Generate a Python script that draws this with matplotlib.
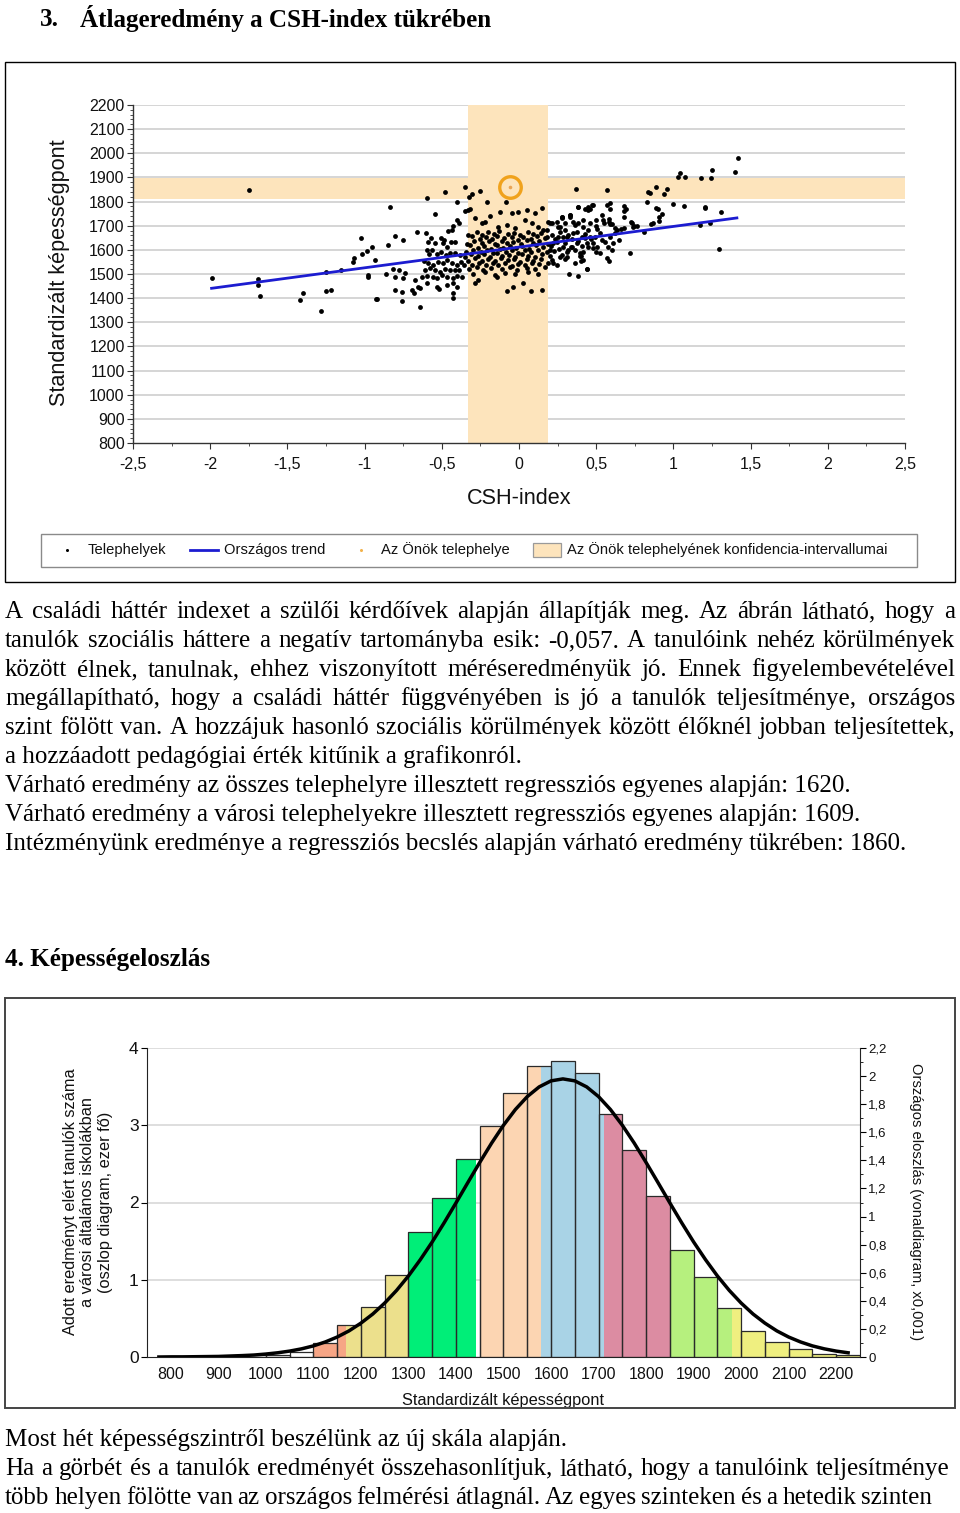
import matplotlib
matplotlib.use('Agg')
import matplotlib.pyplot as plt
from matplotlib.patches import Rectangle
from matplotlib.lines import Line2D
from matplotlib.ticker import MultipleLocator
from matplotlib.transforms import Bbox, TransformedBbox

# ---------------- data: chart 1 (CSH index scatter) ----------------
site_csh = [
    # left tail
    -1.99, -1.75, -1.69, -1.69, -1.68, -1.42, -1.40, -1.28, -1.25, -1.25, -1.22, -1.15,
    # -1.07 .. -0.32
    -1.066, -1.073, -1.023, -0.982, -0.952, -1.015, -0.933, -0.976, -0.976, -0.926,
    -0.918, -0.864, -0.846, -0.835, -0.818, -0.803, -0.803, -0.803, -0.775, -0.760,
    -0.760, -0.753, -0.749, -0.738, -0.695, -0.680, -0.674, -0.663, -0.652, -0.641,
    -0.641, -0.630, -0.615, -0.609, -0.602, -0.598, -0.598, -0.594, -0.594, -0.587,
    -0.587, -0.583, -0.576, -0.570, -0.566, -0.559, -0.555, -0.544, -0.544, -0.544,
    -0.533, -0.533, -0.529, -0.522, -0.516, -0.512, -0.507, -0.505, -0.501, -0.494,
    -0.490, -0.486, -0.481, -0.479, -0.475, -0.468, -0.468, -0.468, -0.464, -0.460,
    -0.447, -0.447, -0.440, -0.436, -0.436, -0.430, -0.430, -0.430, -0.425, -0.425,
    -0.415, -0.415, -0.412, -0.404, -0.404, -0.404, -0.402, -0.399, -0.391, -0.386,
    -0.382, -0.378, -0.371, -0.356, -0.352, -0.350, -0.320, -0.350,
    # outliers around the centre
    -0.302, -0.253, -0.324, -0.209, -0.086, 0.369, -0.080, -0.037, 0.078, 0.151,
    0.028, -0.263, -0.285, -0.145, 0.324, 0.380, 0.438,
    # upper sparse part of the core
    -0.188, -0.123, -0.047, -0.004, 0.050, 0.104, 0.147, 0.039, 0.082, -0.242,
    -0.220, -0.285, -0.328, 0.201, 0.276, 0.330, 0.384, 0.449, 0.481, -0.134,
    -0.080, -0.026, 0.125, 0.179, 0.255, 0.298, 0.363, 0.417, 0.460,
    # dense core
    -0.332, -0.274, -0.237, -0.199, -0.160, -0.127, -0.069, -0.030, 0.006, 0.060, 0.093, 0.142, 0.216, 0.266, 0.320, 0.373, 0.427,
    -0.307, -0.253, -0.216, -0.177, -0.140, -0.095, -0.047, -0.009, 0.028, 0.078, 0.114, 0.168, 0.233, 0.287, 0.345, 0.406, 0.466,
    -0.339, -0.289, -0.242, -0.194, -0.155, -0.112, -0.080, -0.037, 0.013, 0.050, 0.093, 0.130, 0.190, 0.244, 0.298, 0.384, 0.438,
    -0.317, -0.263, -0.225, -0.181, -0.145, -0.101, -0.058, -0.022, 0.022, 0.065, 0.108, 0.158, 0.207, 0.259, 0.337, 0.410, 0.481,
    -0.343, -0.296, -0.246, -0.209, -0.166, -0.123, -0.086, -0.043, -0.004, 0.039, 0.078, 0.125, 0.179, 0.229, 0.309, 0.363,
    -0.311, -0.268, -0.225, -0.188, -0.145, -0.108, -0.065, -0.026, 0.017, 0.060, 0.104, 0.151, 0.201, 0.276, 0.395,
    -0.332, -0.285, -0.237, -0.199, -0.155, -0.117, -0.073, -0.030, 0.006, 0.050, 0.093, 0.142, 0.212, 0.298,
    -0.307, -0.259, -0.216, -0.166, -0.134, -0.091, -0.047, -0.004, 0.039, 0.082, 0.130, 0.190, 0.244,
    -0.324, -0.274, -0.231, -0.181, -0.112, -0.058, -0.015, 0.050, 0.104, 0.168,
    -0.296, -0.220, -0.155, -0.091, -0.026, 0.060, 0.125,
    # 0.15 .. 0.65
    0.212, 0.244, 0.266, 0.298, 0.330, 0.352, 0.384, 0.417, 0.449, 0.460,
    0.492, 0.525, 0.535, 0.557, 0.589, 0.622, 0.255, 0.222, 0.287, 0.320,
    0.341, 0.373, 0.395, 0.417, 0.449, 0.481, 0.266, 0.222, 0.309, 0.363,
    0.417, 0.503, 0.525, 0.579, 0.611, 0.201, 0.179, 0.158, 0.190, 0.276,
    0.309, 0.352, 0.427,
    # right part
    1.416, 1.401, 1.250, 1.245, 1.179, 1.045, 1.028, 1.077, 0.885, 0.837,
    0.847, 0.941, 0.959, 0.568, 0.829, 0.999, 1.071, 1.205, 1.207, 1.310,
    0.889, 0.900, 0.924, 0.907, 0.905, 0.857, 0.870, 0.810, 0.747, 0.766,
    0.734, 1.174, 1.237, 1.297, 0.717, 0.680, 0.691, 0.680, 0.682, 0.587,
    0.570, 0.589, 0.473, 0.462, 0.445, 0.429, 0.380, 0.328, 0.280, 0.440,
    0.568, 0.583, 0.604, 0.499, 0.403, 0.403, 0.650, 0.581, 0.581, 0.589,
    0.604, 0.620, 0.633, 0.659, 0.678, 0.499, 0.499, 0.507, 0.536, 0.542,
    0.553, 0.740, 0.727,
]
site_score = [
    1485, 1848, 1478, 1454, 1409, 1391, 1420, 1348, 1508, 1428, 1432, 1517,
    1565, 1551, 1648, 1597, 1610, 1583, 1558, 1486, 1496, 1395,
    1395, 1500, 1620, 1776, 1519, 1489, 1657, 1434, 1517, 1388,
    1427, 1482, 1641, 1503, 1434, 1420, 1475, 1674, 1447, 1441,
    1365, 1489, 1555, 1517, 1670, 1815, 1599, 1492, 1464, 1544,
    1634, 1583, 1523, 1648, 1599, 1486, 1537, 1517, 1630, 1750,
    1583, 1447, 1482, 1551, 1436, 1510, 1648, 1592, 1496, 1627,
    1544, 1641, 1840, 1519, 1579, 1489, 1454, 1610, 1558, 1677,
    1517, 1586, 1633, 1544, 1682, 1482, 1423, 1399, 1464, 1699,
    1517, 1634, 1586, 1537, 1445, 1724, 1797, 1492, 1710, 1517,
    1579, 1551, 1486, 1537, 1859, 1572, 1768, 1762,
    1831, 1845, 1820, 1800, 1800, 1851, 1431, 1447, 1430, 1434,
    1464, 1475, 1464, 1486, 1500, 1492, 1519,
    1740, 1758, 1751, 1758, 1765, 1751, 1772, 1724, 1710, 1710,
    1717, 1731, 1765, 1710, 1737, 1744, 1779, 1765, 1786, 1696,
    1703, 1689, 1696, 1682, 1696, 1710, 1703, 1724, 1710,
    1663, 1673, 1660, 1675, 1667, 1677, 1664, 1671, 1662, 1674, 1666, 1670, 1660, 1673, 1663, 1675, 1667,
    1656, 1644, 1653, 1645, 1657, 1648, 1655, 1642, 1652, 1646, 1656, 1649, 1644, 1655, 1646, 1653, 1645,
    1626, 1637, 1627, 1635, 1624, 1638, 1628, 1634, 1623, 1639, 1630, 1635, 1626, 1632, 1627, 1637, 1628,
    1619, 1608, 1616, 1605, 1620, 1609, 1617, 1606, 1615, 1604, 1619, 1610, 1616, 1605, 1612, 1617, 1608,
    1590, 1601, 1591, 1599, 1588, 1602, 1592, 1598, 1587, 1599, 1591, 1601, 1590, 1597, 1592, 1599,
    1583, 1573, 1581, 1570, 1586, 1575, 1580, 1569, 1584, 1576, 1572, 1581, 1573, 1579, 1575,
    1554, 1565, 1555, 1563, 1552, 1566, 1557, 1562, 1551, 1561, 1555, 1563, 1558, 1561,
    1537, 1546, 1536, 1544, 1539, 1547, 1535, 1543, 1537, 1546, 1540, 1544, 1536,
    1519, 1528, 1518, 1526, 1521, 1529, 1518, 1525, 1522, 1528,
    1500, 1507, 1497, 1506, 1501, 1508, 1499,
    1710, 1717, 1696, 1682, 1737, 1717, 1710, 1696, 1682, 1654,
    1654, 1668, 1641, 1634, 1654, 1668, 1654, 1627, 1613, 1599,
    1613, 1627, 1585, 1592, 1613, 1627, 1572, 1544, 1572, 1544,
    1558, 1613, 1585, 1613, 1627, 1599, 1654, 1682, 1717, 1730,
    1654, 1668, 1648,
    1982, 1924, 1931, 1898, 1898, 1920, 1903, 1901, 1859, 1838,
    1836, 1830, 1851, 1849, 1797, 1791, 1780, 1779, 1773, 1757,
    1772, 1768, 1749, 1735, 1721, 1706, 1710, 1673, 1698, 1698,
    1713, 1702, 1710, 1602, 1588, 1782, 1770, 1760, 1736, 1793,
    1785, 1769, 1786, 1768, 1776, 1770, 1779, 1744, 1735, 1521,
    1565, 1555, 1598, 1590, 1554, 1575, 1641, 1729, 1717, 1706,
    1707, 1691, 1682, 1685, 1689, 1724, 1699, 1685, 1744, 1724,
    1713, 1693, 1717,
]
trend_csh = [-2.0, 1.42]
trend_score = [1440, 1733]
own_csh, own_score = -0.057, 1860
ci_csh = [-0.33, 0.19]
ci_score = [1811, 1898]
score_ticks = [800, 900, 1000, 1100, 1200, 1300, 1400, 1500, 1600, 1700, 1800, 1900, 2000, 2100, 2200]
csh_ticks = [-2.5, -2, -1.5, -1, -0.5, 0, 0.5, 1, 1.5, 2, 2.5]
csh_labels = ['-2,5', '-2', '-1,5', '-1', '-0,5', '0', '0,5', '1', '1,5', '2', '2,5']
legend_labels = ['Telephelyek', 'Országos trend', 'Az Önök telephelye',
                 'Az Önök telephelyének konfidencia-intervallumai']

# ---------------- data: chart 2 (ability distribution) ----------------
bin_left = [800, 850, 900, 950, 1000, 1050, 1100, 1150, 1200, 1250,
            1300, 1350, 1400, 1450, 1500, 1550, 1600, 1650, 1700, 1750,
            1800, 1850, 1900, 1950, 2000, 2050, 2100, 2150, 2200]
students_thousand = [0.01, 0.01, 0.01, 0.02, 0.03, 0.06, 0.18, 0.42, 0.65, 1.06,
                     1.62, 2.06, 2.56, 2.99, 3.42, 3.77, 3.83, 3.68, 3.14, 2.68,
                     2.08, 1.38, 1.03, 0.63, 0.34, 0.19, 0.11, 0.04, 0.03]
BIN_W = 50
level_lo = [1100, 1168, 1300, 1450, 1578, 1712, 1850, 1981]
level_hi = [1168, 1300, 1442, 1578, 1712, 1850, 1981, 2250]
level_colors = ['#F6A585', '#ECE08C', '#00EE78', '#FCD5B2', '#A9D3E6', '#DC8CA2', '#B6F07E', '#EFEF80']
curve_score = [775, 800, 825, 850, 875, 900, 925, 950, 975, 1000, 1025, 1050, 1075, 1100,
               1125, 1150, 1175, 1200, 1225, 1250, 1275, 1300, 1325, 1350, 1375, 1400,
               1425, 1450, 1475, 1500, 1525, 1550, 1575, 1600, 1625, 1650, 1675, 1700,
               1725, 1750, 1775, 1800, 1825, 1850, 1875, 1900, 1925, 1950, 1975, 2000,
               2025, 2050, 2075, 2100, 2125, 2150, 2175, 2200, 2225]
curve_density = [0.000, 0.001, 0.001, 0.002, 0.003, 0.004, 0.007, 0.010, 0.014, 0.021,
                 0.030, 0.042, 0.058, 0.079, 0.107, 0.142, 0.186, 0.241, 0.306, 0.384,
                 0.474, 0.577, 0.693, 0.819, 0.955, 1.097, 1.242, 1.385, 1.523, 1.650,
                 1.762, 1.854, 1.923, 1.966, 1.980, 1.966, 1.923, 1.854, 1.762, 1.650,
                 1.523, 1.385, 1.242, 1.097, 0.955, 0.819, 0.693, 0.577, 0.474, 0.384,
                 0.306, 0.241, 0.186, 0.142, 0.107, 0.079, 0.058, 0.042, 0.030]
dist_ticks = [800, 900, 1000, 1100, 1200, 1300, 1400, 1500, 1600, 1700, 1800, 1900, 2000, 2100, 2200]
left_ticks = [0, 1, 2, 3, 4]
right_ticks = [0, 0.2, 0.4, 0.6, 0.8, 1.0, 1.2, 1.4, 1.6, 1.8, 2.0, 2.2]
right_labels = ['0', '0,2', '0,4', '0,6', '0,8', '1', '1,2', '1,4', '1,6', '1,8', '2', '2,2']

# ---------------- page text ----------------
heading3_num = '3.'
heading3 = 'Átlageredmény a CSH-index tükrében'
para1 = [
    ('A családi háttér indexet a szülői kérdőívek alapján állapítják meg. Az ábrán látható, hogy a', True),
    ('tanulók szociális háttere a negatív tartományba esik: -0,057. A tanulóink nehéz körülmények', True),
    ('között élnek, tanulnak, ehhez viszonyított méréseredményük jó. Ennek figyelembevételével', True),
    ('megállapítható, hogy a családi háttér függvényében is jó a tanulók teljesítménye, országos', True),
    ('szint fölött van. A hozzájuk hasonló szociális körülmények között élőknél jobban teljesítettek,', True),
    ('a hozzáadott pedagógiai érték kitűnik a grafikonról.', False),
    ('Várható eredmény az összes telephelyre illesztett regressziós egyenes alapján: 1620.', False),
    ('Várható eredmény a városi telephelyekre illesztett regressziós egyenes alapján: 1609.', False),
    ('Intézményünk eredménye a regressziós becslés alapján várható eredmény tükrében: 1860.', False),
]
heading4 = '4. Képességeloszlás'
para2 = [
    ('Most hét képességszintről beszélünk az új skála alapján.', None),
    ('Ha a görbét és a tanulók eredményét összehasonlítjuk, látható, hogy a tanulóink teljesítménye', 950),
    ('több helyen fölötte van az országos felmérési átlagnál. Az egyes szinteken és a hetedik szinten', 932),
]

# ---------------- figure ----------------
SERIF = ['Liberation Serif', 'DejaVu Serif']
SANS = ['Liberation Sans', 'DejaVu Sans']
plt.rcParams['font.family'] = SANS

W, H = 960, 1513
fig = plt.figure(figsize=(W / 100, H / 100), dpi=100)
fig.patch.set_facecolor('white')
renderer = fig.canvas.get_renderer()


def fx(x):
    return x / W


def fy(y):
    return 1 - y / H


def rect_px(x0, y0, x1, y1):
    return [x0 / W, 1 - y1 / H, (x1 - x0) / W, (y1 - y0) / H]


def text_width(s, **kw):
    t = fig.text(0, 0, s, **kw)
    w = t.get_window_extent(renderer).width
    t.remove()
    return w


def fit_size(s, target, family, weight='normal', base=15.0):
    return base * target / text_width(s, fontsize=base, family=family, weight=weight)


def put_line(s, x0, y, size, x1=None, family=SERIF, weight='normal'):
    if x1 is None:
        fig.text(fx(x0), fy(y), s, ha='left', va='center', fontsize=size,
                 family=family, weight=weight, color='black')
        return
    words = s.split(' ')
    ts = [fig.text(0, 0, w, ha='left', va='center', fontsize=size,
                   family=family, weight=weight, color='black') for w in words]
    ws = [t.get_window_extent(renderer).width for t in ts]
    gap = (x1 - x0 - sum(ws)) / (len(words) - 1)
    x = x0
    for t, w in zip(ts, ws):
        t.set_position((fx(x), fy(y)))
        x += w + gap


def add_rect(x0, y0, x1, y1, **kw):
    r = Rectangle((fx(x0), fy(y1)), (x1 - x0) / W, (y1 - y0) / H,
                  transform=fig.transFigure, **kw)
    fig.add_artist(r)
    return r


BODY = fit_size(para1[-1][0], 905, SERIF)
HEAD = fit_size(heading3, 412, SERIF, weight='bold')

# headings and text
put_line(heading3_num, 40, 19, HEAD, weight='bold')
put_line(heading3, 80, 18, HEAD, weight='bold')
y = 612
for line, just in para1:
    put_line(line, 5, y, BODY, x1=955 if just else None)
    y += 29
put_line(heading4, 5, 960, HEAD, weight='bold')
y = 1440
for line, right in para2:
    put_line(line, 5, y, BODY, x1=right)
    y += 29

# ---------------- chart 1 ----------------
CI_COLOR = '#FDE4BC'
add_rect(5, 62, 955, 582, fill=False, edgecolor='black', lw=1.0)
ax1 = fig.add_axes(rect_px(133, 105, 905, 443))
ax1.set_xlim(-2.5, 2.5)
ax1.set_ylim(800, 2200)
for v in score_ticks[1:]:
    ax1.axhline(v, color='#d2d2d2', lw=1.3, zorder=0)
ax1.axvspan(ci_csh[0], ci_csh[1], color=CI_COLOR, lw=0, zorder=1)
ax1.axhspan(ci_score[0], ci_score[1], color=CI_COLOR, lw=0, zorder=1)
ax1.scatter(site_csh, site_score, s=12, c='black', linewidths=0, zorder=3)
ax1.plot(trend_csh, trend_score, color='#1c1cd0', lw=2.0, zorder=4, solid_capstyle='butt')
ax1.plot([own_csh], [own_score], marker='o', ms=15.5, mfc='none', mec='#F0A21C', mew=2.4, zorder=5)
ax1.plot([own_csh], [own_score], marker='o', ms=2.6, color='#E9A456', mew=0, zorder=6)
for sp in ['top', 'right']:
    ax1.spines[sp].set_visible(False)
for sp in ['left', 'bottom']:
    ax1.spines[sp].set_color('#333333')
    ax1.spines[sp].set_linewidth(1.0)
ax1.set_yticks(score_ticks)
ax1.set_yticklabels([str(v) for v in score_ticks])
ax1.yaxis.set_minor_locator(MultipleLocator(20))
ax1.set_xticks(csh_ticks)
ax1.set_xticklabels(csh_labels)
ax1.xaxis.set_minor_locator(MultipleLocator(0.25))
ax1.tick_params(which='major', direction='out', length=4, width=0.8, color='#333333',
                labelsize=11.5, labelcolor='#111111')
ax1.tick_params(axis='y', which='major', pad=2)
ax1.tick_params(axis='x', which='major', pad=6)
ax1.tick_params(which='minor', direction='out', length=2.5, width=0.6, color='#333333')

ylab_size = fit_size('Standardizált képességpont', 268, SANS)
fig.text(fx(60), fy(273), 'Standardizált képességpont', rotation=90, ha='center', va='center',
         fontsize=ylab_size, color='#111111')
fig.text(fx(519), fy(499), 'CSH-index', ha='center', va='center', fontsize=ylab_size, color='#111111')

# legend
add_rect(41, 534, 917, 567, fill=False, edgecolor='#8a8a8a', lw=1.0)
LEG = fit_size(legend_labels[3], 319, SANS)
fig.add_artist(Line2D([fx(67)], [fy(550)], marker='o', ms=2.2, color='black', mew=0,
                      transform=fig.transFigure))
fig.add_artist(Line2D([fx(190), fx(218)], [fy(550), fy(550)], color='#1c1cd0', lw=2.0,
                      transform=fig.transFigure))
fig.add_artist(Line2D([fx(361)], [fy(550)], marker='o', ms=2.2, color='#F2B24A', mew=0,
                      transform=fig.transFigure))
add_rect(533, 543, 561, 557, facecolor=CI_COLOR, edgecolor='#9a9a9a', lw=0.9)
for lab, x in zip(legend_labels, [88, 224, 381, 567]):
    fig.text(fx(x), fy(550), lab, ha='left', va='center', fontsize=LEG, color='#111111')

# ---------------- chart 2 ----------------
add_rect(5, 998, 955, 1408, fill=False, edgecolor='#444444', lw=1.4, zorder=5)
ax2 = fig.add_axes(rect_px(147, 1048, 860, 1357))
ax2.set_xlim(750, 2250)
ax2.set_ylim(0, 4)
for v in left_ticks[1:]:
    ax2.axhline(v, color='#d8d8d8', lw=1.2, zorder=0)
for lo, hi, col in zip(level_lo, level_hi, level_colors):
    for b, h in zip(bin_left, students_thousand):
        s, e = max(lo, b), min(hi, b + BIN_W)
        if e > s:
            ax2.bar(s, h, width=e - s, align='edge', color=col, linewidth=0, zorder=1)
ax2.bar(bin_left, students_thousand, width=BIN_W, align='edge', fill=False,
        edgecolor='#2a2a2a', linewidth=0.9, zorder=2)
ax3 = ax2.twinx()
ax3.set_ylim(0, 2.2)
ax3.plot(curve_score, curve_density, color='black', lw=2.5, zorder=3)

for sp in ['top', 'right']:
    ax2.spines[sp].set_visible(False)
for sp in ['top', 'left', 'bottom']:
    ax3.spines[sp].set_visible(False)
ax2.spines['left'].set_color('#222222')
ax2.spines['bottom'].set_color('#222222')
ax3.spines['right'].set_color('#222222')
ax2.set_xticks(dist_ticks)
ax2.set_xticklabels([str(v) for v in dist_ticks])
ax2.tick_params(axis='x', length=0, pad=7, labelsize=11.5, labelcolor='#111111')
ax2.set_yticks(left_ticks)
ax2.set_yticklabels([str(v) for v in left_ticks])
ax2.tick_params(axis='y', direction='out', length=4, width=0.8, pad=2, labelsize=12.5,
                labelcolor='#111111')
ax3.set_yticks(right_ticks)
ax3.set_yticklabels(right_labels)
ax3.yaxis.set_minor_locator(MultipleLocator(0.1))
ax3.tick_params(axis='y', which='major', direction='out', length=4, width=0.8, pad=2,
                labelsize=9.5, labelcolor='#111111')
ax3.tick_params(axis='y', which='minor', direction='out', length=2, width=0.6)

lsize = fit_size('Adott eredményt elért tanulók száma', 267, SANS)
fig.text(fx(88), fy(1202), 'Adott eredményt elért tanulók száma\na városi általános iskolákban\n(oszlop diagram, ezer fő)',
         rotation=90, ha='center', va='center', multialignment='center', fontsize=lsize,
         linespacing=1.2, color='#111111')
rsize = fit_size('Országos eloszlás (vonaldiagram, x0,001)', 277, SANS)
fig.text(fx(916), fy(1202), 'Országos eloszlás (vonaldiagram, x0,001)', rotation=-90,
         ha='center', va='center', fontsize=rsize, color='#111111')
xsize = fit_size('Standardizált képességpont', 203, SANS)
xt = fig.text(fx(503), fy(1401), 'Standardizált képességpont', ha='center', va='center',
              fontsize=xsize, color='#111111')
xt.set_clip_box(TransformedBbox(Bbox.from_extents(fx(5), fy(1407), fx(955), fy(998)), fig.transFigure))
xt.set_clip_on(True)

fig.savefig('out.png', dpi=100, facecolor='white')
